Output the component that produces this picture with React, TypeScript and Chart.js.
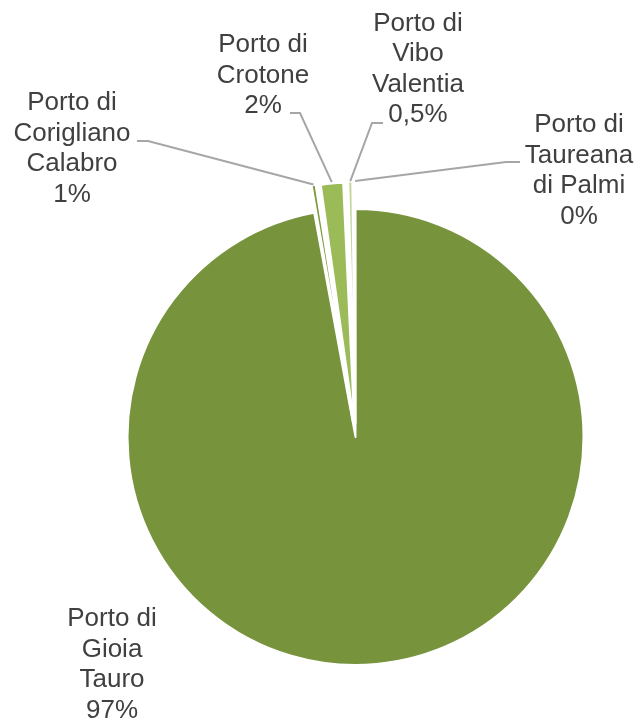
import React, { useEffect, useRef } from "react";
import { Chart, registerables } from "chart.js";

Chart.register(...registerables);

const ports = [
  "Porto di Gioia Tauro",
  "Porto di Corigliano Calabro",
  "Porto di Crotone",
  "Porto di Vibo Valentia",
  "Porto di Taureana di Palmi",
];
const shares = [97.1, 0.55, 1.75, 0.55, 0.05];
const shareLabels = ["97%", "1%", "2%", "0,5%", "0%"];
const labelLines = [
  ["Porto di", "Gioia", "Tauro"],
  ["Porto di", "Corigliano", "Calabro"],
  ["Porto di", "Crotone"],
  ["Porto di", "Vibo", "Valentia"],
  ["Porto di", "Taureana", "di Palmi"],
];
const colors = ["#77933C", "#7C9C3F", "#9BBB59", "#C3D69B", "#D7E4BD"];

// label layout (text positions and leader-line anchors)
const labelLayout = [
  { x: 112, y: 619, leader: null },
  { x: 72, y: 103, leader: [[137, 141], [148, 141]] },
  { x: 263, y: 45, leader: [[290, 113], [300, 113]] },
  { x: 418, y: 23.5, leader: [[383, 123], [372, 123]] },
  { x: 579, y: 125, leader: [[520, 162], [506, 162]] },
];
const LINE_H = 30.6;

const labelPlugin = {
  id: "pieLabels",
  afterDraw(chart: any) {
    const ctx = chart.ctx;
    const meta = chart.getDatasetMeta(0);
    ctx.save();
    labelLayout.forEach((lay, i) => {
      const arc = meta.data[i];
      if (!arc) return;
      const p = arc.getProps(["x", "y", "startAngle", "endAngle", "outerRadius"], true);
      const off = (arc.options.offset || 0) / 4;
      const mid = (p.startAngle + p.endAngle) / 2;
      const r = p.outerRadius + off + off;
      const px = p.x + Math.cos(mid) * r;
      const py = p.y + Math.sin(mid) * r;
      if (lay.leader) {
        ctx.beginPath();
        ctx.strokeStyle = "#A6A6A6";
        ctx.lineWidth = 2;
        ctx.moveTo(lay.leader[0][0], lay.leader[0][1]);
        ctx.lineTo(lay.leader[1][0], lay.leader[1][1]);
        ctx.lineTo(px, py);
        ctx.stroke();
      }
      const lines = [...labelLines[i], shareLabels[i]];
      ctx.fillStyle = "#404040";
      ctx.font = '26px "Liberation Sans", Arial, sans-serif';
      ctx.textAlign = "center";
      ctx.textBaseline = "middle";
      lines.forEach((t, k) => ctx.fillText(t, lay.x, lay.y + k * LINE_H));
    });
    ctx.restore();
  },
};

export default function App() {
  const ref = useRef<HTMLCanvasElement>(null);
  useEffect(() => {
    if (!ref.current) return;
    const chart = new Chart(ref.current, {
      type: "pie",
      data: {
        labels: ports,
        datasets: [
          {
            data: shares,
            backgroundColor: colors,
            borderColor: "#FFFFFF",
            borderWidth: 2,
            borderJoinStyle: "round",
            offset: [0, 56, 56, 56, 56],
            radius: 228,
          } as any,
        ],
      },
      options: {
        responsive: false,
        animation: false,
        layout: { padding: { left: 72, right: 0, top: 152, bottom: 0 } },
        plugins: {
          legend: { display: false },
          tooltip: { enabled: false },
        },
        events: [],
      },
      plugins: [labelPlugin],
    });
    return () => chart.destroy();
  }, []);
  return (
    <div style={{ position: "absolute", left: 0, top: 0, width: 639, height: 722, background: "#fff" }}>
      <canvas ref={ref} width={639} height={722} />
    </div>
  );
}
